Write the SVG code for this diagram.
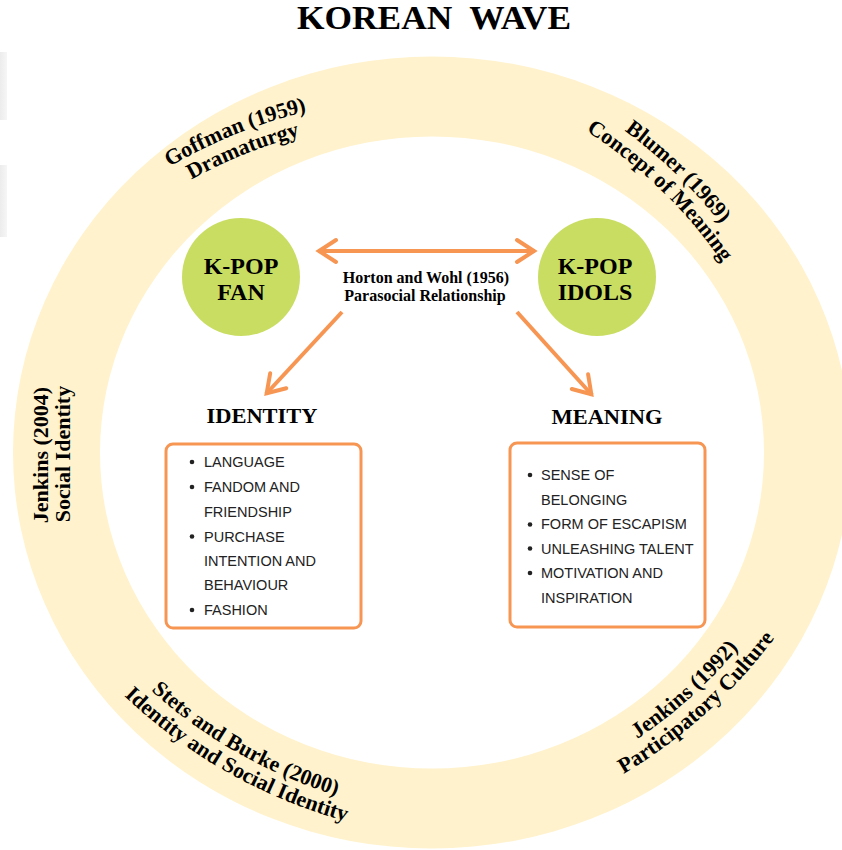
<svg xmlns="http://www.w3.org/2000/svg" xmlns:xlink="http://www.w3.org/1999/xlink" width="842" height="850" viewBox="0 0 842 850">
<style>
.serif{font-family:"Liberation Serif","Times New Roman",serif;font-weight:bold;fill:#000}
.ring{font-size:22px}
.circ{font-size:24px}
.head{font-size:21px}
.mid{font-size:16px}
.item{font-family:"Liberation Sans",Arial,sans-serif;font-size:14.5px;fill:#222}
.box{fill:#fff;stroke:#f79552;stroke-width:3}
.conn{stroke:#f79552;stroke-width:4;fill:none}
.node{fill:#c9dd62}
</style>
<defs>
<marker id="chev" markerUnits="userSpaceOnUse" markerWidth="30" markerHeight="30" viewBox="-25 -15 30 30" refX="0" refY="0" orient="auto-start-reverse" overflow="visible">
<path d="M-18,-11 L-1,0 L-18,11" fill="none" stroke="#f79552" stroke-width="4" stroke-linecap="round"/>
</marker>
<linearGradient id="fade" x1="0" y1="0" x2="1" y2="0">
<stop offset="0" stop-color="#ececec"/>
<stop offset="1" stop-color="#f6f6f6"/>
</linearGradient>
<path id="topA" d="M-170,29.8 A500,500 0 0 1 170,29.8"/>
<path id="topB" d="M-170,53.25 A478,478 0 0 1 170,53.25"/>
<path id="botA" d="M-170,-29.8 A500,500 0 0 0 170,-29.8"/>
<path id="botB" d="M-170,-6.46 A522,522 0 0 0 170,-6.46"/>
</defs>
<rect width="842" height="850" fill="#fff"/>
<rect x="0" y="52" width="7" height="68" fill="url(#fade)"/>
<rect x="0" y="165" width="7" height="72" fill="url(#fade)"/>

<g id="title"><text class="serif" x="434" y="29" font-size="33" text-anchor="middle" textLength="274" lengthAdjust="spacingAndGlyphs" xml:space="preserve">KOREAN  WAVE</text></g>

<g id="ring">
<path fill="#fff2cc" fill-rule="evenodd" d="M13,452.5 A419,396 0 1 0 851,452.5 A419,396 0 1 0 13,452.5 Z M100,452.5 A332,316 0 1 1 764,452.5 A332,316 0 1 1 100,452.5 Z"/>
</g>

<g id="goffman" class="serif ring" transform="translate(236,134) rotate(-22)">
<text><textPath xlink:href="#topA" startOffset="50%" text-anchor="middle">Goffman (1959)</textPath></text>
<text><textPath xlink:href="#topB" startOffset="50%" text-anchor="middle">Dramaturgy</textPath></text>
</g>
<g id="blumer" class="serif ring" transform="translate(676,174) rotate(44)">
<text><textPath xlink:href="#topA" startOffset="50%" text-anchor="middle">Blumer (1969)</textPath></text>
<text><textPath xlink:href="#topB" startOffset="50%" text-anchor="middle">Concept of Meaning</textPath></text>
</g>
<g id="jenkins2004" class="serif ring">
<text transform="translate(48,455) rotate(-90)" text-anchor="middle">Jenkins (2004)</text>
<text transform="translate(70,454) rotate(-90)" text-anchor="middle">Social Identity</text>
</g>
<g id="stets" class="serif ring" transform="translate(238,753) rotate(29.5)">
<text><textPath xlink:href="#botA" startOffset="50%" text-anchor="middle">Stets and Burke (2000)</textPath></text>
<text><textPath xlink:href="#botB" startOffset="50%" text-anchor="middle">Identity and Social Identity</textPath></text>
</g>
<g id="jenkins1992" class="serif ring" transform="translate(691,697) rotate(-42)">
<text><textPath xlink:href="#botA" startOffset="50%" text-anchor="middle">Jenkins (1992)</textPath></text>
<text><textPath xlink:href="#botB" startOffset="50%" text-anchor="middle">Participatory Culture</textPath></text>
</g>

<g id="connectors">
<line class="conn" x1="318" y1="251" x2="535" y2="251" marker-start="url(#chev)" marker-end="url(#chev)"/>
<line class="conn" x1="342" y1="312" x2="266" y2="394" marker-end="url(#chev)"/>
<line class="conn" x1="517" y1="312" x2="592" y2="395" marker-end="url(#chev)"/>
</g>

<g id="kpop-fan">
<circle class="node" cx="241" cy="277" r="59"/>
<text class="serif circ" x="241" y="274" text-anchor="middle">K-POP</text>
<text class="serif circ" x="241" y="300" text-anchor="middle">FAN</text>
</g>
<g id="kpop-idols">
<circle class="node" cx="597" cy="277" r="59"/>
<text class="serif circ" x="595" y="274" text-anchor="middle">K-POP</text>
<text class="serif circ" x="595" y="300" text-anchor="middle">IDOLS</text>
</g>
<g id="parasocial">
<text class="serif mid" x="426" y="283" text-anchor="middle">Horton and Wohl (1956)</text>
<text class="serif mid" x="425" y="301" text-anchor="middle">Parasocial Relationship</text>
</g>

<g id="identity">
<text class="serif head" x="262" y="423" text-anchor="middle" textLength="111" lengthAdjust="spacingAndGlyphs">IDENTITY</text>
<rect class="box" x="166" y="444" width="195" height="184" rx="7"/>
<g fill="#222"><circle cx="192" cy="462" r="2.3"/><circle cx="192" cy="487" r="2.3"/><circle cx="192" cy="536.5" r="2.3"/><circle cx="192" cy="610" r="2.3"/></g>
<text class="item" x="204" y="467">LANGUAGE</text>
<text class="item" x="204" y="492">FANDOM AND</text>
<text class="item" x="204" y="516.5">FRIENDSHIP</text>
<text class="item" x="204" y="541.5">PURCHASE</text>
<text class="item" x="204" y="566">INTENTION AND</text>
<text class="item" x="204" y="590">BEHAVIOUR</text>
<text class="item" x="204" y="615">FASHION</text>
</g>

<g id="meaning">
<text class="serif head" x="607" y="424" text-anchor="middle" textLength="111" lengthAdjust="spacingAndGlyphs">MEANING</text>
<rect class="box" x="510" y="443" width="195" height="184" rx="7"/>
<g fill="#222"><circle cx="530" cy="475" r="2.3"/><circle cx="530" cy="524.5" r="2.3"/><circle cx="530" cy="548.5" r="2.3"/><circle cx="530" cy="573" r="2.3"/></g>
<text class="item" x="541" y="480">SENSE OF</text>
<text class="item" x="541" y="504.5">BELONGING</text>
<text class="item" x="541" y="529">FORM OF ESCAPISM</text>
<text class="item" x="541" y="553.5">UNLEASHING TALENT</text>
<text class="item" x="541" y="578">MOTIVATION AND</text>
<text class="item" x="541" y="602.5">INSPIRATION</text>
</g>
</svg>
